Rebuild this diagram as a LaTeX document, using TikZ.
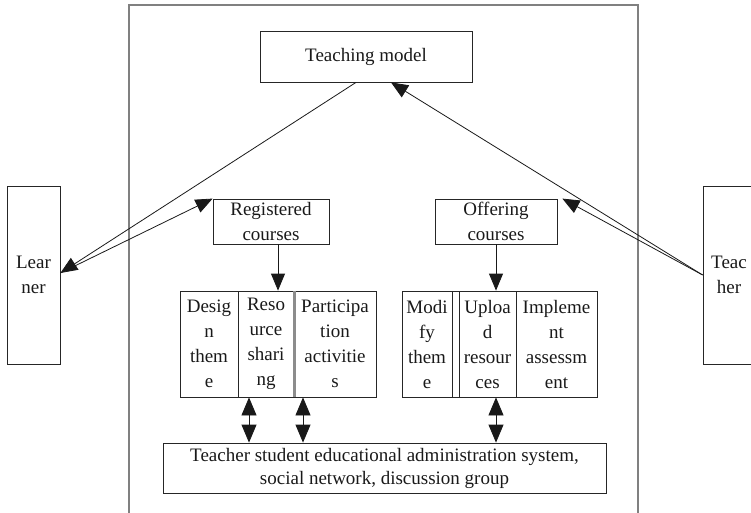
\documentclass[tikz,border=0pt]{standalone}
\usepackage{fontspec}
\setmainfont{Liberation Serif}
\usetikzlibrary{arrows.meta}

\begin{document}
\begin{tikzpicture}[x=1pt,y=-1pt,
  box/.style={draw=black!85, line width=0.8pt, inner sep=0pt, align=center,
    text=black!90, font=\fontsize{19}{25}\selectfont},
  wide/.style={box, font=\fontsize{19}{23}\selectfont},
  link/.style={draw=black!90, line width=0.8pt},
  tip/.style={link, -{Triangle[length=17pt,width=14pt]}},
  twotip/.style={link, {Triangle[length=18pt,width=15pt]}-{Triangle[length=18pt,width=15pt]}},
  frame/.style={draw=black!50, line width=1.2pt}
]
\useasboundingbox (0,0) rectangle (751,513);

% outer frame of the platform
\draw[frame] (129,520) -- (129,5) -- (638,5) -- (638,520);

% top level
\node[box, minimum width=212pt, minimum height=51pt] (tm) at (366,56.5) {Teaching model};

% actors
\node[box, minimum width=53pt, minimum height=178pt] (learner) at (33.5,275) {Lear\\ner};
\node[box, minimum width=52pt, minimum height=178pt] (teacher) at (729,275) {Teac\\her};

% course entry boxes
\node[box, minimum width=116pt, minimum height=45pt] (reg) at (271,221.5) {Registered\\courses};
\node[box, minimum width=122pt, minimum height=45pt] (off) at (496,221.5) {Offering\\courses};

% learner activities
\node[box, minimum width=58pt, minimum height=106pt] (design) at (209,344) {Desig\\n\\them\\e};
\node[box, minimum width=56pt, minimum height=106pt] (resource) at (266,344) {Reso\\urce\\shari\\ng};
\node[box, minimum width=82pt, minimum height=106pt] (particip) at (335,344) {Participa\\tion\\activitie\\s};
\draw[black!45, line width=2.2pt] (resource.north east) -- (resource.south east);

% teacher activities
\node[box, minimum width=50pt, minimum height=106pt] (modify) at (427,344) {Modi\\fy\\them\\e};
\node[box, minimum width=7pt, minimum height=106pt] (gap) at (455.5,344) {};
\node[box, minimum width=57pt, minimum height=106pt] (upload) at (487.5,344) {Uploa\\d\\resour\\ces};
\node[box, minimum width=81pt, minimum height=106pt] (implement) at (556.5,344) {Impleme\\nt\\assessm\\ent};

% shared platform
\node[wide, minimum width=443pt, minimum height=50pt] (platform) at (384.5,468)
  {Teacher student educational administration system,\\social network, discussion group};

% links between actors and model / courses
\draw[tip] ([xshift=-10pt]tm.south) -- ([yshift=2pt]learner.east);
\draw[tip] ([yshift=2pt]learner.east) -- (reg.north west);
\draw[tip] (teacher.west) -- ([xshift=25pt]tm.south);
\draw[tip] (teacher.west) -- ([xshift=5pt]off.north east);

% courses down to activities
\draw[tip] ([xshift=7pt]reg.south) -- ([xshift=7pt]reg.south |- resource.north);
\draw[tip] (off.south) -- (off.south |- upload.north);

% activities exchange with platform
\draw[twotip] ([xshift=-17pt]resource.south) -- ([xshift=-17pt]resource.south |- platform.north);
\draw[twotip] ([xshift=-32pt]particip.south) -- ([xshift=-32pt]particip.south |- platform.north);
\draw[twotip] (off.south |- upload.south) -- (off.south |- platform.north);
\end{tikzpicture}
\end{document}
